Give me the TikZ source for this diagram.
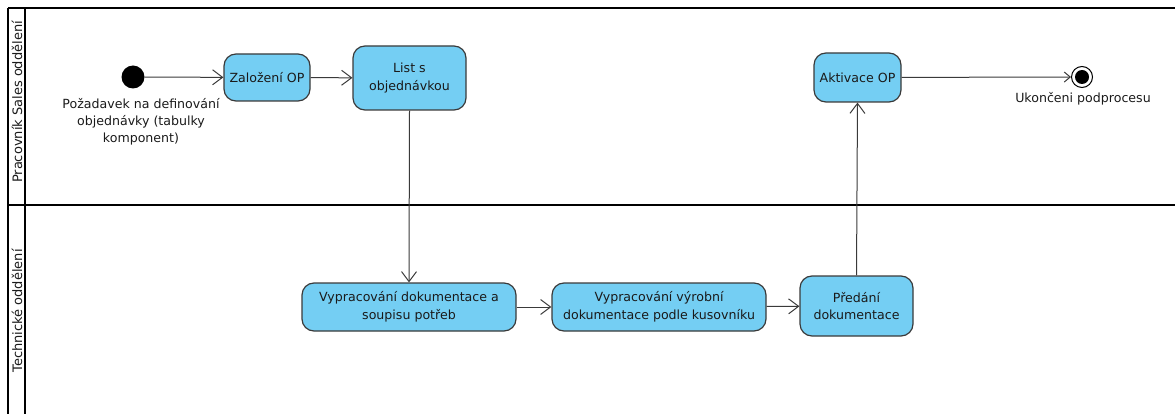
\documentclass[tikz,border=0pt]{standalone}
\usepackage{fontspec}
\setmainfont{DejaVu Sans}
\usetikzlibrary{arrows.meta}
\definecolor{actfill}{HTML}{74CEF3}
\definecolor{actline}{HTML}{3A3A3A}
\definecolor{txt}{HTML}{1A1A1A}
\tikzset{
  act/.style={draw=actline, line width=1.2pt, fill=actfill, rounded corners=12pt,
    align=center, font=\fontsize{12.6}{17.5}\selectfont, text=txt, inner sep=0pt},
  flow/.style={draw=actline, line width=1pt,
    -{Straight Barb[length=10pt,width=15pt,line width=1pt]}},
  lane/.style={draw=black, line width=1.8pt},
  lbl/.style={align=center, font=\fontsize{12.6}{17}\selectfont, text=txt},
  lanetitle/.style={rotate=90, font=\fontsize{13}{14}\selectfont, text=txt}
}
\begin{document}
\begin{tikzpicture}[x=1pt,y=-1pt]
\useasboundingbox (0,0) rectangle (1175,414);
% swimlane frame
\coordinate (tl) at (8,8);
\coordinate (tr) at (1175,8);
\coordinate (ml) at (8,205);
\coordinate (mr) at (1175,205);
\coordinate (bl) at (8,414);
\coordinate (hl) at (25,8);
\coordinate (hb) at (25,414);
\draw[lane] (tl) -- (tr);
\draw[lane] (ml) -- (mr);
\draw[lane] (tl) -- (bl);
\draw[lane] (hl) -- (hb);
\node[lanetitle] (laneA) at (17,102) {Pracovník Sales oddělení};
\node[lanetitle] (laneB) at (17,311) {Technické oddělení};

% initial and final states
\node[circle, fill=black, minimum size=23pt, inner sep=0pt] (start) at (133,77) {};
\node[lbl, anchor=north] (startlbl) at (141,95) {Požadavek na definování\\objednávky (tabulky\\komponent)};
\node[circle, draw=black, line width=1pt, fill=white, minimum size=21pt, inner sep=0pt] (finish) at (1082,77) {};
\node[circle, fill=black, minimum size=14pt, inner sep=0pt] (finishdot) at (finish) {};
\node[lbl, anchor=north] (finishlbl) at (1083,89) {Ukončeni podprocesu};

% actions
\node[act, minimum width=86pt, minimum height=47pt] (zal) at (267,77.5) {Založení OP};
\node[act, minimum width=113pt, minimum height=64pt] (list) at (409.5,78) {List s\\objednávkou};
\node[act, minimum width=87pt, minimum height=49pt] (akt) at (857.5,77.5) {Aktivace OP};
\node[act, minimum width=214pt, minimum height=48pt] (vyp1) at (409,307) {Vypracování dokumentace a\\soupisu potřeb};
\node[act, minimum width=214pt, minimum height=48pt] (vyp2) at (659,307) {Vypracování výrobní\\dokumentace podle kusovníku};
\node[act, minimum width=113pt, minimum height=60pt] (pred) at (856.5,306) {Předání\\dokumentace};

% control flow
\draw[flow] (start) -- (zal);
\draw[flow] (zal) -- (list);
\draw[flow] (list.south) -- (vyp1.north);
\draw[flow] (vyp1) -- (vyp2);
\draw[flow] (vyp2) -- (pred);
\draw[flow] (pred.north) -- (akt.south);
\draw[flow, -{Straight Barb[length=6pt,width=10pt,line width=1pt]}] (akt) -- (finish);
\end{tikzpicture}
\end{document}
